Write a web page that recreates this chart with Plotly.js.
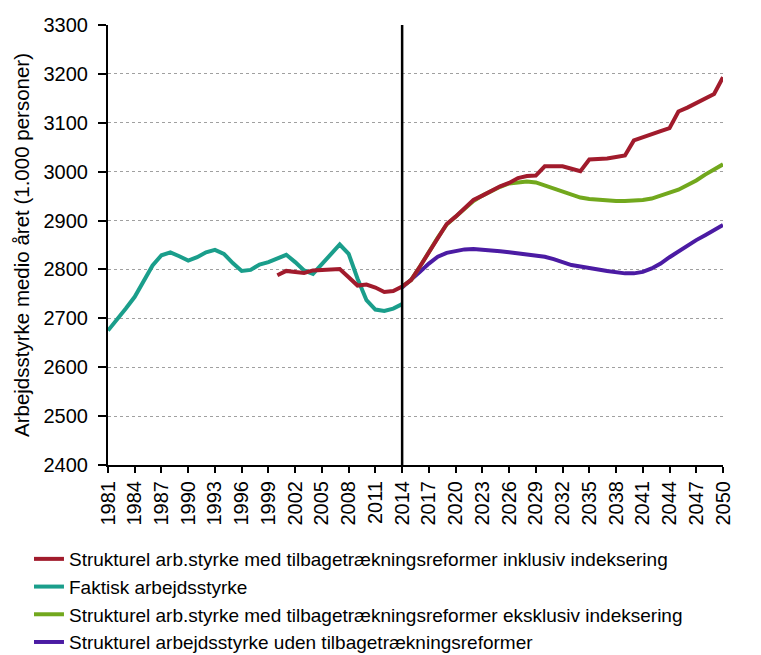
<!DOCTYPE html>
<html>
<head>
<meta charset="utf-8">
<script src="https://cdn.plot.ly/plotly-3.0.1.min.js"></script>
<style>html,body{margin:0;padding:0;background:#fff;}#chart{width:761px;height:655px;}</style>
</head>
<body>
<div id="chart"></div>
<script>
var faktiskYears = [1981,1982,1983,1984,1985,1986,1987,1988,1989,1990,1991,1992,1993,1994,1995,1996,1997,1998,1999,2000,2001,2002,2003,2004,2005,2006,2007,2008,2009,2010,2011,2012,2013,2014];
var faktisk = [2675,2696,2720,2744,2778,2808,2829,2835,2827,2818,2825,2835,2840,2832,2813,2797,2799,2810,2815,2822,2830,2815,2798,2791,2812,2832,2851,2832,2781,2737,2718,2715,2720,2729];

var inklYears = [2000,2001,2002,2003,2004,2005,2006,2007,2008,2009,2010,2011,2012,2013,2014,2015,2016,2017,2018,2019,2020,2021,2022,2023,2024,2025,2026,2027,2028,2029,2030,2031,2032,2033,2034,2035,2036,2037,2038,2039,2040,2041,2042,2043,2044,2045,2046,2047,2048,2049,2050];
var inkl = [2788,2797,2795,2793,2798,2799,2800,2801,2784,2767,2769,2763,2754,2756,2765,2778,2806,2836,2865,2893,2908,2925,2942,2951,2961,2970,2977,2987,2991,2992,3011,3011,3011,3006,3001,3025,3025,3027,3030,3033,3064,3071,3078,3083,3089,3123,3131,3140,3149,3159,3193];

var projYears = [2014,2015,2016,2017,2018,2019,2020,2021,2022,2023,2024,2025,2026,2027,2028,2029,2030,2031,2032,2033,2034,2035,2036,2037,2038,2039,2040,2041,2042,2043,2044,2045,2046,2047,2048,2049,2050];
var ekskl = [2765,2778,2806,2836,2865,2892,2908,2924,2940,2951,2961,2969,2976,2979,2980,2978,2972,2965,2959,2952,2947,2944,2942,2940,2940,2940,2940,2942,2945,2950,2957,2963,2972,2982,2994,3004,3015];
var uden = [2763,2778,2795,2812,2826,2834,2838,2841,2842,2841,2839,2837,2835,2833,2832,2830,2826,2821,2814,2809,2806,2802,2800,2797,2794,2792,2792,2795,2802,2812,2825,2837,2848,2860,2870,2880,2891];

var names = [
  "Strukturel arb.styrke med tilbagetrækningsreformer inklusiv indeksering",
  "Faktisk arbejdsstyrke",
  "Strukturel arb.styrke med tilbagetrækningsreformer eksklusiv indeksering",
  "Strukturel arbejdsstyrke uden tilbagetrækningsreformer"
];
var colors = ["#a11b2c", "#1a9e8b", "#72a81d", "#4b1ba3"];

var traces = [
  {x: projYears, y: uden, name: names[3], mode: "lines", line: {color: colors[3], width: 4}, legendrank: 4},
  {x: projYears, y: ekskl, name: names[2], mode: "lines", line: {color: colors[2], width: 4}, legendrank: 3},
  {x: faktiskYears, y: faktisk, name: names[1], mode: "lines", line: {color: colors[1], width: 4}, legendrank: 2},
  {x: inklYears, y: inkl, name: names[0], mode: "lines", line: {color: colors[0], width: 4}, legendrank: 1}
];

var FONT = "'Liberation Sans', Arial, sans-serif";

var layout = {
  width: 761, height: 655,
  margin: {l: 108, r: 38, t: 25, b: 190, autoexpand: false},
  paper_bgcolor: "#fff", plot_bgcolor: "#fff",
  font: {family: FONT, color: "#000"},
  showlegend: true,
  legend: {
    orientation: "v",
    x: -0.1285, xanchor: "left", y: -0.1705, yanchor: "top",
    font: {size: 19, family: FONT},
    tracegroupgap: 0, itemwidth: 30,
    traceorder: "normal", bgcolor: "rgba(0,0,0,0)"
  },
  xaxis: {
    range: [1981, 2050], tick0: 1981, dtick: 3, tickmode: "linear",
    tickangle: -90, tickfont: {size: 20},
    showline: true, linecolor: "#000", linewidth: 2,
    ticks: "outside", ticklen: 6, tickwidth: 2, tickcolor: "#000",
    showgrid: false, zeroline: false
  },
  yaxis: {
    range: [2400, 3300], dtick: 100, tick0: 2400,
    tickfont: {size: 20}, ticklabelstandoff: 6,
    title: {text: "Arbejdsstyrke medio året (1.000 personer)", font: {size: 20.5}, standoff: 8},
    showline: true, linecolor: "#000", linewidth: 2,
    ticks: "outside", ticklen: 8, tickwidth: 2, tickcolor: "#000",
    showgrid: true, gridcolor: "#a0a0a0", griddash: "dot", gridwidth: 1,
    zeroline: false
  },
  shapes: [
    {type: "line", xref: "x", yref: "paper", x0: 2014, x1: 2014, y0: 0, y1: 1, line: {color: "#000", width: 2.5}}
  ]
};

Plotly.newPlot("chart", traces, layout, {displayModeBar: false, staticPlot: true});
</script>
</body>
</html>
